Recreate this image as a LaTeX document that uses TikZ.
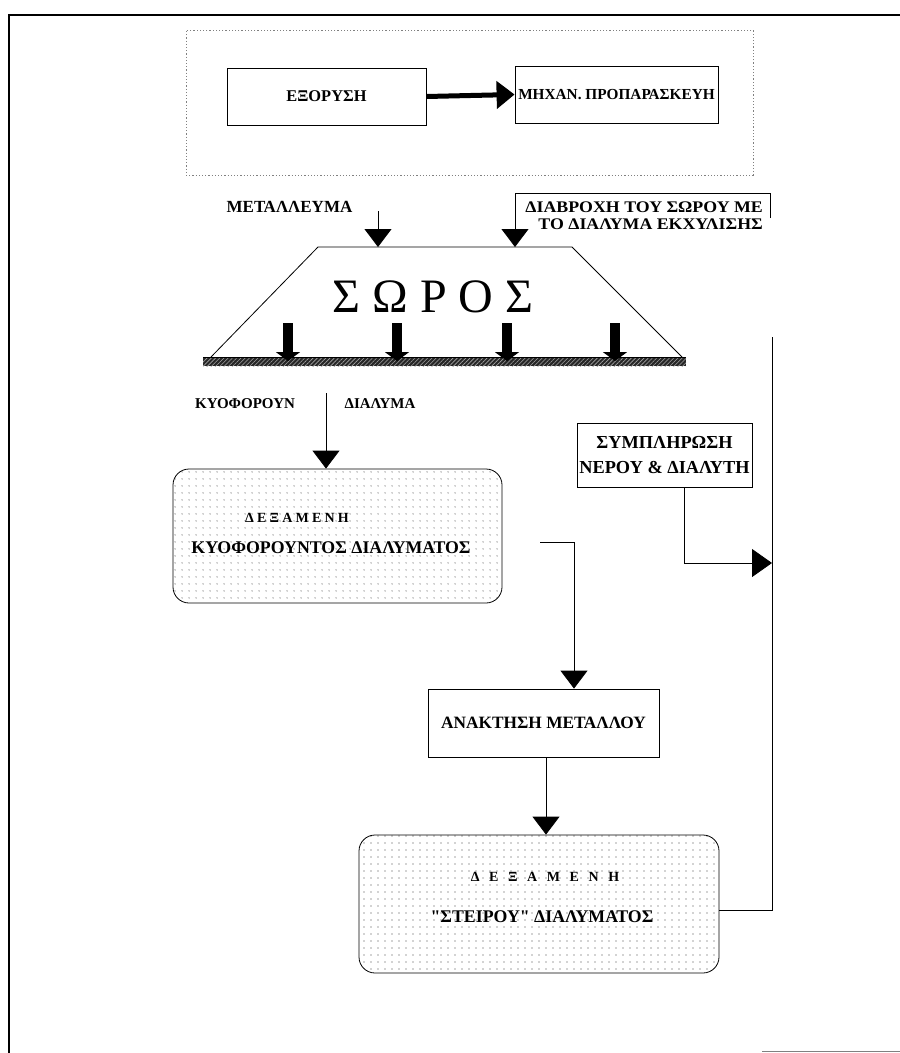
\documentclass[tikz,border=0pt]{standalone}
\usepackage{fontspec}
\setmainfont{Liberation Serif}
\newfontfamily\gf{Liberation Serif}
\newfontfamily\gfw[FakeStretch=1.1]{Liberation Serif}
\usetikzlibrary{arrows.meta,patterns.meta}
\newcommand\gapA{\hspace{3.2pt}}
\newcommand\gapB{\hspace{9.6pt}}
\begin{document}
\begin{tikzpicture}[x={(1pt,0)},y={(0,-1pt)},
  box/.style={draw, line width=0.8pt, inner sep=0pt},
  dotframe/.style={draw=gray, line width=0.8pt, dash pattern=on 1.2pt off 2pt, inner sep=0pt},
  tank/.style={draw, line width=0.8pt, rounded corners=16pt, inner sep=0pt,
    pattern={Dots[distance=6.5pt,radius=0.6pt]}, pattern color=black!75},
  lab/.style={inner sep=0pt},
  conn/.style={line width=0.8pt},
  arr/.style={line width=0.8pt, -{Triangle[width=27pt,length=18pt]}},
  fatarr/.style={line width=10pt, -{Triangle[width=24pt,length=9pt]}}
]
\useasboundingbox (0,0) rectangle (900,1053);
% outer frame
\draw[line width=2pt] (9,1053) -- (9,15) -- (900,15);
\draw[gray, line width=1pt] (762,1051) -- (900,1051);

% preparation block
\node[dotframe, minimum width=567pt, minimum height=145pt] (prep) at (469.5,102.5) {};
\node[box, minimum width=199pt, minimum height=57pt,
      font=\gf\bfseries\fontsize{16.4}{17}\selectfont] (E) at (326.5,96.5) {ΕΞΟΡΥΣΗ};
\node[box, minimum width=203pt, minimum height=57pt,
      font=\gf\bfseries\fontsize{15.3}{16}\selectfont] (M) at (616.5,94.5) {ΜΗΧΑΝ. ΠΡΟΠΑΡΑΣΚΕΥΗ};
\draw[line width=5pt, -{Triangle[width=27pt,length=18pt]}] (E.east) -- (M.west);

% labels above heap
\node[lab, font=\gf\bfseries\fontsize{17}{17}\selectfont] (ore) at (289.5,207) {ΜΕΤΑΛΛΕΥΜΑ};
\node[lab, align=right, anchor=east, font=\gfw\bfseries\fontsize{16.2}{17}\selectfont] (wet) at (763,215.5)
  {ΔΙΑΒΡΟΧΗ ΤΟΥ ΣΩΡΟΥ ΜΕ\\ΤΟ ΔΙΑΛΥΜΑ ΕΚΧΥΛΙΣΗΣ};

% heap
\coordinate (tl) at (318,247);
\coordinate (tr) at (572,247);
\coordinate (br) at (682,357);
\coordinate (bl) at (211,357);
\draw[line width=0.8pt] (bl) -- (tl) -- (tr) -- (br);
\fill[black!85] (203,357) rectangle (686,366);
\fill[pattern={Lines[angle=45,distance=3pt,line width=0.6pt]}, pattern color=white!65!black] (203,357) rectangle (686,366);
\draw[line width=1pt] (203,357) -- (686,357);
\node[lab, font=\fontsize{48}{48}\selectfont] (heap) at (433,297) {Σ Ω Ρ Ο Σ};
\foreach \xx in {288,397,507,615} \draw[fatarr] (\xx,323) -- (\xx,361);

% arrows into heap
\coordinate (a1) at (378,211);
\draw[arr] (a1) -- (a1 |- tl);
\coordinate (w1) at (770,218);
\coordinate (w2) at (770,193);
\coordinate (w3) at (515,193);
\draw[conn] (w1) -- (w2) -- (w3);
\draw[arr] (w3) -- (w3 |- tl);

% pregnant solution
\node[lab, font=\gf\bfseries\fontsize{15}{15}\selectfont] (k1) at (245,404) {ΚΥΟΦΟΡΟΥΝ};
\node[lab, font=\gf\bfseries\fontsize{15}{15}\selectfont] (k2) at (380,404) {ΔΙΑΛΥΜΑ};
\node[tank, minimum width=329pt, minimum height=134pt] (T1) at (337.5,536) {};
\node[lab, font=\gf\bfseries\fontsize{14}{14}\selectfont] (T1a) at (297,518) {Δ\gapA Ε\gapA Ξ\gapA Α\gapA Μ\gapA Ε\gapA Ν\gapA Η};
\node[lab, font=\gf\bfseries\fontsize{17.8}{18}\selectfont] (T1b) at (331,548) {ΚΥΟΦΟΡΟΥΝΤΟΣ ΔΙΑΛΥΜΑΤΟΣ};
\coordinate (ks) at (326,393);
\draw[arr] (ks) -- (ks |- T1.north);

% make-up box
\node[box, minimum width=175pt, minimum height=64pt, align=center,
      font=\gf\bfseries\fontsize{18.3}{25}\selectfont] (S) at (664.5,455) {ΣΥΜΠΛΗΡΩΣΗ\\ΝΕΡΟΥ \& ΔΙΑΛΥΤΗ};

% recovery
\node[box, minimum width=231pt, minimum height=68pt,
      font=\gf\bfseries\fontsize{17.3}{18}\selectfont] (R) at (543.5,723) {ΑΝΑΚΤΗΣΗ ΜΕΤΑΛΛΟΥ};
\coordinate (c1) at (540,542);
\coordinate (c2) at (574,542);
\draw[arr] (c1) -- (c2) -- (c2 |- R.north);

% barren tank
\node[tank, minimum width=360pt, minimum height=138pt] (T2) at (539,904) {};
\node[lab, font=\gf\bfseries\fontsize{14}{14}\selectfont] (T2a) at (545,877) {Δ\gapB Ε\gapB Ξ\gapB Α\gapB Μ\gapB Ε\gapB Ν\gapB Η};
\node[lab, font=\gf\bfseries\fontsize{17.8}{18}\selectfont] (T2b) at (542,917) {"ΣΤΕΙΡΟΥ" ΔΙΑΛΥΜΑΤΟΣ};
\coordinate (c3) at (546,757);
\draw[arr] (c3 |- R.south) -- (c3 |- T2.north);

% return line
\coordinate (r1) at (772,910);
\coordinate (r2) at (772,337);
\draw[conn] (T2.east |- r1) -- (r1) -- (r2);
\coordinate (s1) at (684,563);
\draw[line width=0.8pt, -{Triangle[width=28pt,length=20pt]}] (s1 |- S.south) -- (s1) -- (r1 |- s1);
\end{tikzpicture}
\end{document}
